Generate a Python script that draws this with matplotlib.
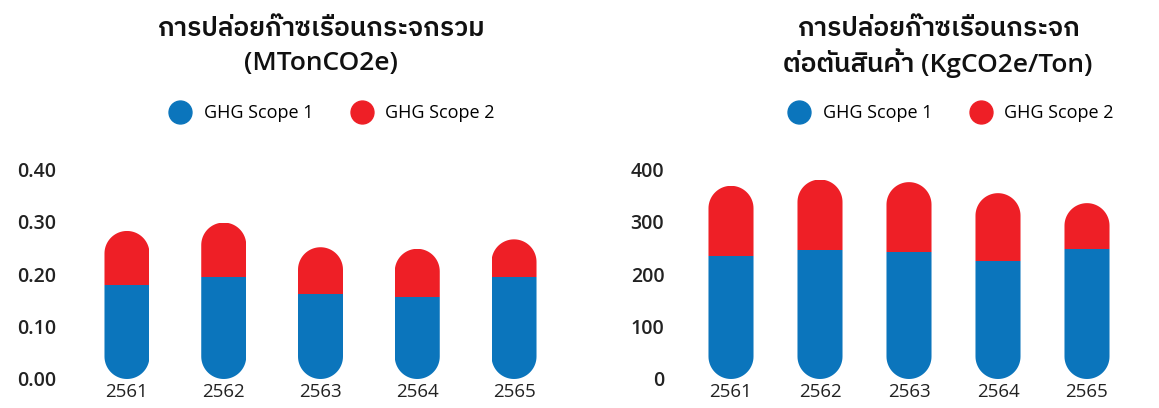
import numpy as np
import matplotlib.pyplot as plt
from matplotlib.lines import Line2D
from matplotlib.path import Path

years = ['2561', '2562', '2563', '2564', '2565']
total_scope1 = [0.180, 0.194, 0.161, 0.157, 0.195]
total_scope2 = [0.102, 0.104, 0.090, 0.091, 0.071]
int_scope1 = [234, 246, 241, 224, 247]
int_scope2 = [134, 134, 134, 130, 88]
total_ticks = [0.0, 0.1, 0.2, 0.3, 0.4]
int_ticks = [0, 100, 200, 300, 400]

blue = '#0b75bc'
red = '#ee1f26'

plt.rcParams['font.family'] = ['Open Sans', 'IBM Plex Sans Thai', 'DejaVu Sans']

fig = plt.figure(figsize=(11.59, 4.08), dpi=100)


def capsule(xc, w, top, ry):
    # outline of a bar with half-circle ends, in data units
    t = np.linspace(0, np.pi, 40)
    xs = np.concatenate([xc + w / 2 * np.cos(t), xc - w / 2 * np.cos(t)])
    ys = np.concatenate([top - ry + ry * np.sin(t), ry - ry * np.sin(t)])
    return Path(np.column_stack([xs, ys]), closed=False)


def capsule_bars(ax, s1, s2, width, ticks, fmt):
    n = len(years)
    ax.set_xlim(-0.5, n - 0.5)
    ax.set_ylim(ticks[0], ticks[-1])
    bb = ax.get_window_extent()
    ry = width / 2 * (bb.width / n) / (bb.height / (ticks[-1] - ticks[0]))
    x = list(range(n))
    b1 = ax.bar(x, s1, width, color=blue, linewidth=0)
    b2 = ax.bar(x, s2, width, bottom=s1, color=red, linewidth=0)
    for i in x:
        clip = capsule(i, width, s1[i] + s2[i], ry)
        b1[i].set_clip_path(clip, ax.transData)
        b2[i].set_clip_path(clip, ax.transData)
    ax.set_xticks(x, years, fontsize=13.5)
    ax.set_yticks(ticks, [fmt.format(t) for t in ticks], fontsize=14, fontweight=600)
    ax.tick_params(length=0, colors='#222222')
    ax.tick_params(axis='x', pad=3)
    ax.tick_params(axis='y', pad=16)
    for s in ax.spines.values():
        s.set_visible(False)


ax1 = fig.add_axes([78.6 / 1159, 29 / 408, 483.8 / 1159, 210 / 408])
capsule_bars(ax1, total_scope1, total_scope2, 0.465, total_ticks, '{:.2f}')
ax2 = fig.add_axes([686.5 / 1159, 29 / 408, 445 / 1159, 210 / 408])
capsule_bars(ax2, int_scope1, int_scope2, 0.506, int_ticks, '{:.0f}')

titles = [(321, 'การปล่อยก๊าซเรือนกระจกรวม', '(MTonCO2e)'),
          (938, 'การปล่อยก๊าซเรือนกระจก', 'ต่อตันสินค้า (KgCO2e/Ton)')]
for xc, l1, l2 in titles:
    fig.text(xc / 1159, 1 - 30 / 408, l1, ha='center', va='center', fontsize=19,
             fontweight=600, color='#111111')
    fig.text(xc / 1159, 1 - 63 / 408, l2, ha='center', va='center', fontsize=19,
             fontweight=600, color='#111111')

handles = [Line2D([], [], marker='o', ls='', ms=16.5, color=blue, label='GHG Scope 1'),
           Line2D([], [], marker='o', ls='', ms=16.5, color=red, label='GHG Scope 2')]
for xc in (332, 951):
    fig.legend(handles=handles, loc='center', bbox_to_anchor=(xc / 1159, 1 - 113 / 408),
               ncol=2, frameon=False, fontsize=13, handletextpad=0.7,
               columnspacing=2.1, handlelength=1.2)

fig.savefig('out.png', dpi=100)
